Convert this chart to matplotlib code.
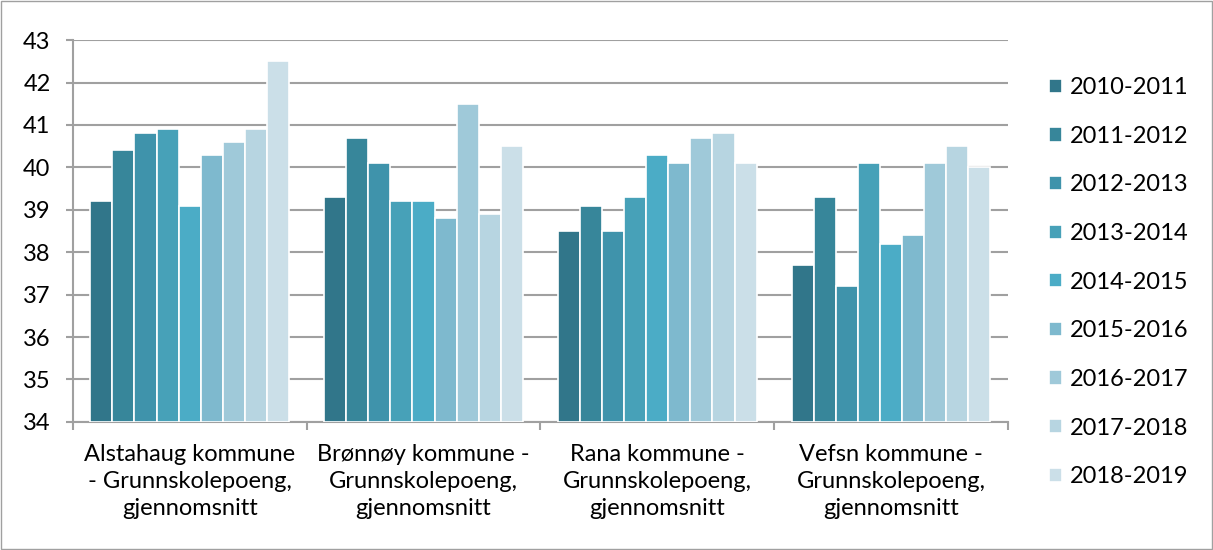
import matplotlib.pyplot as plt
import numpy as np

plt.rcParams['font.family'] = ['Lato', 'DejaVu Sans']

# data
categories = ["Alstahaug kommune\n- Grunnskolepoeng,\ngjennomsnitt",
              "Brønnøy kommune -\nGrunnskolepoeng,\ngjennomsnitt",
              "Rana kommune -\nGrunnskolepoeng,\ngjennomsnitt",
              "Vefsn kommune -\nGrunnskolepoeng,\ngjennomsnitt"]
seasons = ["2010-2011", "2011-2012", "2012-2013", "2013-2014", "2014-2015",
           "2015-2016", "2016-2017", "2017-2018", "2018-2019"]
alstahaug = [39.2, 40.4, 40.8, 40.9, 39.1, 40.3, 40.6, 40.9, 42.5]
bronnoy = [39.3, 40.7, 40.1, 39.2, 39.2, 38.8, 41.5, 38.9, 40.5]
rana = [38.5, 39.1, 38.5, 39.3, 40.3, 40.1, 40.7, 40.8, 40.1]
vefsn = [37.7, 39.3, 37.2, 40.1, 38.2, 38.4, 40.1, 40.5, 40.0]

colors = ["#31768a", "#37869a", "#3f93ab", "#47a1b8", "#4bacc6",
          "#7eb9ce", "#9fc9d9", "#b7d5e1", "#cbdfe8"]

values = np.array([alstahaug, bronnoy, rana, vefsn])

fig = plt.figure(figsize=(12.13, 5.5), dpi=100)
ax = fig.add_axes([0.060, 0.233, 0.771, 0.694])

x = np.arange(len(categories))
n = len(seasons)
width = 0.85 / n
base = 34
for i, s in enumerate(seasons):
    pos = x - 0.425 + width * (i + 0.5)
    ax.bar(pos, values[:, i] - base, width, bottom=base, color=colors[i],
           edgecolor="white", linewidth=1.2, label=s, zorder=3)

ax.set_ylim(34, 43)
ax.set_xlim(-0.5, len(categories) - 0.5)
ax.set_yticks(np.arange(34, 44, 1))
ax.yaxis.grid(True, color="#a0a0a0", linewidth=1.5, zorder=0)
ax.set_axisbelow(True)

ax.set_xticks(x)
ax.set_xticklabels(categories, fontsize=17, linespacing=1.35)
ax.set_xticks(np.arange(-0.5, len(categories), 1), minor=True)
ax.tick_params(axis="x", which="major", length=0, pad=16)
ax.tick_params(axis="x", which="minor", length=6, width=1.5, color="#a0a0a0")
ax.tick_params(axis="y", length=5, width=1.5, color="#a0a0a0", labelsize=17, pad=11)

for side in ["top", "right"]:
    ax.spines[side].set_visible(False)
for side in ["left", "bottom"]:
    ax.spines[side].set_color("#a0a0a0")
    ax.spines[side].set_linewidth(1.5)

fig.legend(*ax.get_legend_handles_labels(), loc="center left",
           bbox_to_anchor=(0.857, 0.487), frameon=False,
           fontsize=17, handlelength=0.55, handleheight=0.55, handletextpad=0.35,
           labelspacing=1.17, borderaxespad=0)

# outer frame
fig.patches.append(plt.Rectangle((0.001, 0.001), 0.998, 0.998, transform=fig.transFigure,
                                 fill=False, edgecolor="#a0a0a0", linewidth=1))

plt.savefig("out.png", dpi=100)
plt.close()
